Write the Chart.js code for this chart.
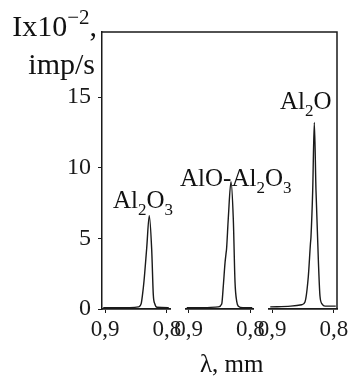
<!DOCTYPE html>
<html>
<head>
<meta charset="utf-8">
<script src="https://cdn.jsdelivr.net/npm/chart.js@4.4.0/dist/chart.umd.min.js"></script>
<style>
  body { margin: 0; background: #fff; }
  #wrap { position: relative; width: 359px; height: 376px; font-family: "Liberation Serif", serif; color: #111; }
  #wrap canvas { position: absolute; left: 0; top: 0; }
  .lbl { position: absolute; line-height: 1; white-space: nowrap; }
  .lbl sub { font-size: 17px; vertical-align: baseline; position: relative; top: 7px; }
  .lbl sup { font-size: 21px; vertical-align: baseline; position: relative; top: -12px; }
</style>
</head>
<body>
<div id="wrap">
  <canvas id="peakChart" width="359" height="376"></canvas>
  <div class="lbl" style="left:0; width:97px; text-align:right; top:11px; font-size:30px;">Ix10<sup>&minus;2</sup>,</div>
  <div class="lbl" style="left:0; width:95px; text-align:right; top:49px; font-size:30px;">imp/s</div>
  <div class="lbl" style="left:113px; top:187px; font-size:25px;">Al<sub>2</sub>O<sub>3</sub></div>
  <div class="lbl" style="left:180px; top:165px; font-size:25px;">AlO-Al<sub>2</sub>O<sub>3</sub></div>
  <div class="lbl" style="left:280px; top:88px; font-size:25px;">Al<sub>2</sub>O</div>
  <div class="lbl" style="left:200px; top:351px; font-size:25px;">&lambda;, mm</div>
</div>
<script>
// tick values
var lambdaTicks = [0.9, 0.8];
var intensityTicks = [0, 5, 10, 15];

// Al2O3 panel
var al2o3Lambda = [0.903, 0.86, 0.846, 0.8415, 0.8395, 0.837, 0.8327, 0.8285, 0.8246, 0.822, 0.8195, 0.816, 0.797];
var al2o3Intensity = [0.1, 0.1, 0.15, 0.4, 1.0, 2.0, 4.3, 6.6, 4.2, 1.0, 0.35, 0.12, 0.1];

// AlO-Al2O3 panel
var aloLambda = [0.903, 0.87, 0.852, 0.8464, 0.8439, 0.841, 0.8395, 0.8385, 0.8358, 0.8314, 0.8277, 0.8249, 0.822, 0.8196, 0.812, 0.797];
var aloIntensity = [0.1, 0.1, 0.15, 0.35, 1.6, 3.3, 3.9, 4.3, 6.4, 9.0, 6.4, 1.9, 0.5, 0.2, 0.1, 0.1];

// Al2O panel
var al2oLambda = [0.903, 0.87, 0.852, 0.8468, 0.8414, 0.838, 0.8371, 0.8343, 0.8317, 0.829, 0.8252, 0.8225, 0.819, 0.8144, 0.797];
var al2oIntensity = [0.15, 0.2, 0.3, 0.5, 2.3, 4.6, 5.1, 8.4, 13.2, 8.4, 3.5, 0.9, 0.35, 0.2, 0.2];

function toPoints(xs, ys) {
  return xs.map(function(x, i) { return {x: x, y: ys[i]}; });
}

var ink = "#1a1a1a";
var tickFont = {family: "Liberation Serif", size: 23};

function panelAxis(weight) {
  return {
    type: "linear",
    position: "bottom",
    stack: "lambda",
    stackWeight: weight,
    min: 0.795,
    max: 0.905,
    reverse: true,
    afterBuildTicks: function(s) { s.ticks = lambdaTicks.map(function(v) { return {value: v}; }); },
    afterFit: function(s) { s.height = 67; },
    grid: {drawOnChartArea: false, drawTicks: true, tickLength: 4, color: ink},
    border: {display: true, color: ink, width: 1.8},
    ticks: {
      font: tickFont, color: ink, padding: 3, maxRotation: 0, autoSkip: false,
      callback: function(v) { return String(v).replace(".", ","); }
    }
  };
}

function gapAxis(weight) {
  return {type: "linear", position: "bottom", stack: "lambda", stackWeight: weight, display: false};
}

// top and right edges of the frame
var framePlugin = {
  id: "frame",
  afterDraw: function(chart) {
    var a = chart.chartArea, c = chart.ctx;
    c.save();
    c.strokeStyle = ink;
    c.lineWidth = 1.5;
    c.beginPath();
    c.moveTo(a.left, a.top);
    c.lineTo(a.right, a.top);
    c.lineTo(a.right, a.bottom);
    c.stroke();
    c.restore();
  }
};

function lineSet(xs, ys, axis) {
  return {
    data: toPoints(xs, ys),
    xAxisID: axis,
    yAxisID: "y",
    borderColor: ink,
    borderWidth: 1.4,
    pointRadius: 0,
    fill: false,
    cubicInterpolationMode: "monotone"
  };
}

var ctx = document.getElementById("peakChart").getContext("2d");
var peakChart = new Chart(ctx, {
  type: "line",
  data: {
    datasets: [
      lineSet(al2o3Lambda, al2o3Intensity, "x1"),
      lineSet(aloLambda, aloIntensity, "x2"),
      lineSet(al2oLambda, al2oIntensity, "x3")
    ]
  },
  options: {
    responsive: false,
    animation: false,
    layout: {padding: {top: 32, right: 22, left: 0, bottom: 0}},
    plugins: {legend: {display: false}, tooltip: {enabled: false}},
    scales: {
      x1: panelAxis(68),
      g1: gapAxis(15.5),
      x2: panelAxis(68),
      g2: gapAxis(15.5),
      x3: panelAxis(68),
      y: {
        type: "linear",
        position: "left",
        min: 0,
        max: 19.6,
        afterBuildTicks: function(s) { s.ticks = intensityTicks.map(function(v) { return {value: v}; }); },
        afterFit: function(s) { s.width = 102; },
        grid: {drawOnChartArea: false, drawTicks: true, tickLength: 4, color: ink},
        border: {display: true, color: ink, width: 1.5},
        ticks: {font: {family: "Liberation Serif", size: 24}, color: ink, padding: 7}
      }
    }
  },
  plugins: [framePlugin]
});
</script>
</body>
</html>
